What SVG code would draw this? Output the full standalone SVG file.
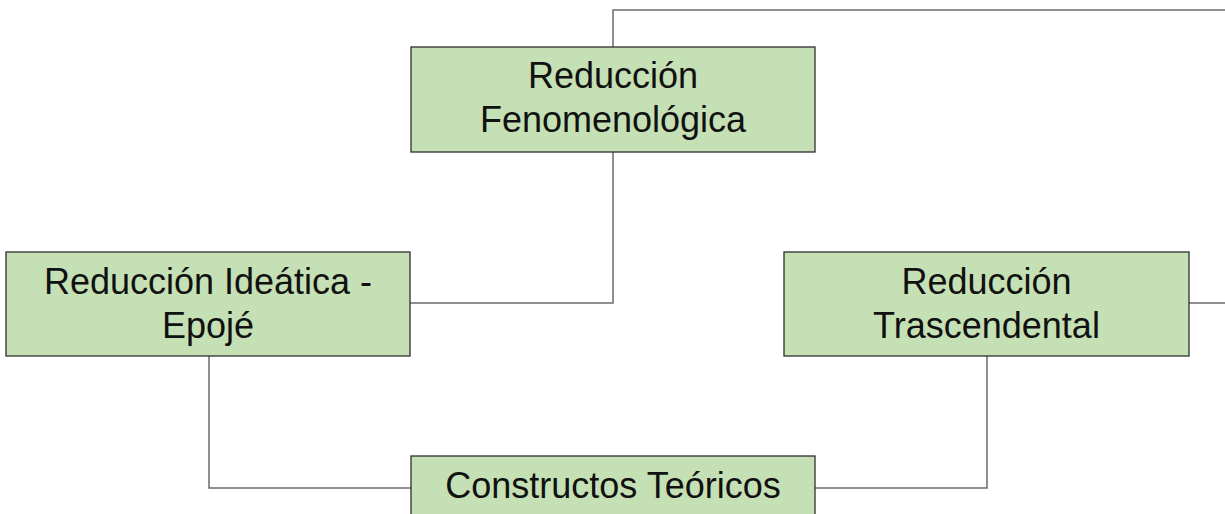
<svg xmlns="http://www.w3.org/2000/svg" width="1225" height="514" viewBox="0 0 1225 514">
<style>
.box{fill:#c5e0b4;stroke:#2f2f2f;stroke-width:1.3}
.lbl{font-family:"Liberation Sans",Arial,sans-serif;font-size:36px;fill:#111;text-anchor:middle}
.conn{fill:none;stroke:#6b6b6b;stroke-width:1.5}
</style>
<rect width="1225" height="514" fill="#ffffff"/>
<g id="connectors">
<polyline class="conn" points="613,47 613,10 1226,10"/>
<polyline class="conn" points="613,152 613,303 410,303"/>
<polyline class="conn" points="209,356 209,488 411,488"/>
<polyline class="conn" points="815,488 987,488 987,356"/>
<polyline class="conn" points="1189,303 1226,303"/>
</g>
<g id="reduccion-fenomenologica">
<rect class="box" x="411" y="47" width="404" height="105"/>
<text class="lbl" x="613" y="87.5">Reducción</text>
<text class="lbl" x="613" y="131.5">Fenomenológica</text>
</g>
<g id="reduccion-ideatica">
<rect class="box" x="6" y="252" width="404" height="104"/>
<text class="lbl" x="208" y="294">Reducción Ideática -</text>
<text class="lbl" x="208" y="338">Epojé</text>
</g>
<g id="reduccion-trascendental">
<rect class="box" x="784" y="252" width="405" height="104"/>
<text class="lbl" x="986.5" y="294">Reducción</text>
<text class="lbl" x="986.5" y="338">Trascendental</text>
</g>
<g id="constructos-teoricos">
<rect class="box" x="411" y="456" width="404" height="64"/>
<text class="lbl" x="613" y="498">Constructos Teóricos</text>
</g>
</svg>
